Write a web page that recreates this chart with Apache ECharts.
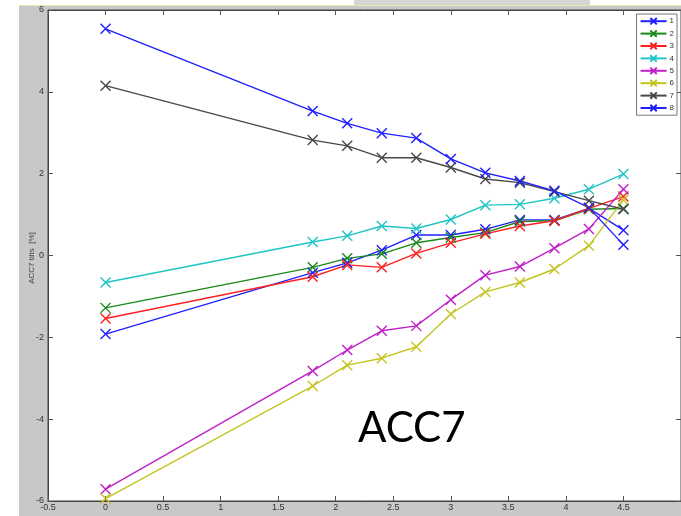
<!DOCTYPE html>
<html>
<head>
<meta charset="utf-8">
<script src="https://cdn.jsdelivr.net/npm/echarts@6/dist/echarts.min.js"></script>
<style>html,body{margin:0;padding:0;background:#fff;}#c{width:681px;height:516px;}</style>
</head>
<body>
<div id="c"></div>
<script>
var xs = [0, 1.8, 2.1, 2.4, 2.7, 3.0, 3.3, 3.6, 3.9, 4.2, 4.5];
var s1 = [-1.92, -0.42, -0.18, 0.13, 0.50, 0.50, 0.64, 0.87, 0.87, 1.15, 0.62];
var s2 = [-1.28, -0.29, -0.07, 0.04, 0.31, 0.44, 0.56, 0.83, 0.85, 1.13, 1.15];
var s3 = [-1.54, -0.52, -0.23, -0.29, 0.05, 0.31, 0.53, 0.72, 0.85, 1.15, 1.44];
var s4 = [-0.66, 0.33, 0.48, 0.72, 0.66, 0.88, 1.23, 1.25, 1.40, 1.62, 1.99];
var s5 = [-5.71, -2.82, -2.31, -1.84, -1.72, -1.08, -0.48, -0.27, 0.18, 0.65, 1.62];
var s6 = [-5.94, -3.19, -2.68, -2.51, -2.23, -1.43, -0.89, -0.66, -0.33, 0.24, 1.36];
var s7 = [4.15, 2.82, 2.68, 2.39, 2.39, 2.15, 1.87, 1.78, 1.56, 1.34, 1.13];
var s8 = [5.54, 3.53, 3.23, 2.99, 2.87, 2.36, 2.02, 1.82, 1.58, 1.17, 0.26];
var seriesNames = ['1', '2', '3', '4', '5', '6', '7', '8'];
var seriesValues = [s1, s2, s3, s4, s5, s6, s7, s8];
var colors = ['#2020ff', '#1a8a1a', '#ff2020', '#20c4c4', '#c020c8', '#c4c420', '#484848', '#2020ff'];

var xMark = 'path://M0,0L10,10M10,0L0,10';

var chart = echarts.init(document.getElementById('c'), null, {renderer: 'canvas'});
var series = seriesValues.map(function (vals, i) {
  return {
    name: seriesNames[i],
    type: 'line',
    data: xs.map(function (x, j) { return [x, vals[j]]; }),
    symbol: xMark,
    symbolSize: 10,
    showAllSymbol: true,
    lineStyle: {color: colors[i], width: 1.4},
    itemStyle: {color: 'rgba(0,0,0,0)', borderColor: colors[i], borderWidth: 1.4},
    emphasis: {disabled: true},
    animation: false,
    z: 3
  };
});

var axisStyle = {onZero: false, lineStyle: {color: '#444', width: 1}};
var tickStyle = {show: true, inside: true, length: 5, lineStyle: {color: '#555', width: 1}};
var labelFont = '"Liberation Sans", Arial, sans-serif';

chart.setOption({
  backgroundColor: '#ffffff',
  animation: false,
  graphic: [
    {type: 'rect', shape: {x: 19, y: 6, width: 662, height: 510}, style: {fill: '#c8c8c8'}, z: -10},
    {type: 'line', shape: {x1: 19, y1: 5.5, x2: 681, y2: 5.5}, style: {stroke: '#ece6b0', lineWidth: 1}, z: -9},
    {type: 'rect', shape: {x: 354, y: 0, width: 236, height: 5}, style: {fill: '#d6d6d6'}, z: -9},
    {type: 'text', left: 358, top: 407, style: {text: 'ACC7', font: '42px Lato, "Open Sans", sans-serif', fill: '#000'}, z: 10},
    {type: 'text', x: 32, y: 258, rotation: Math.PI / 2, style: {text: 'ACC7 tilts  [%]', font: '8px ' + labelFont, fill: '#444', align: 'center', verticalAlign: 'middle'}, z: 10}
  ],
  grid: {left: 48, top: 10, right: 0, bottom: 15, show: true, backgroundColor: '#ffffff', borderColor: '#444', borderWidth: 1},
  legend: {
    orient: 'vertical', right: 4, top: 14,
    data: seriesNames,
    itemWidth: 26, itemHeight: 8, itemGap: 4,
    backgroundColor: '#ffffff', borderColor: '#777', borderWidth: 1,
    padding: [3, 3, 3, 3],
    textStyle: {fontSize: 8, color: '#333', fontFamily: labelFont, padding: [0, 0, 0, -2]},
    selectedMode: false
  },
  xAxis: [
    {type: 'value', min: -0.5, max: 5, interval: 0.5, position: 'bottom',
     axisLine: axisStyle, axisTick: tickStyle, splitLine: {show: false},
     axisLabel: {show: true, fontSize: 9, color: '#333', margin: 2, showMaxLabel: false, fontFamily: labelFont}},
    {type: 'value', min: -0.5, max: 5, interval: 0.5, position: 'top',
     axisLine: axisStyle, axisTick: tickStyle, splitLine: {show: false}, axisLabel: {show: false}}
  ],
  yAxis: [
    {type: 'value', min: -6, max: 6, interval: 2, position: 'left',
     axisLine: axisStyle, axisTick: tickStyle, splitLine: {show: false},
     axisLabel: {show: true, fontSize: 9, color: '#333', margin: 4, fontFamily: labelFont}},
    {type: 'value', min: -6, max: 6, interval: 2, position: 'right',
     axisLine: axisStyle, axisTick: tickStyle, splitLine: {show: false}, axisLabel: {show: false}}
  ],
  series: series
});
</script>
</body>
</html>
